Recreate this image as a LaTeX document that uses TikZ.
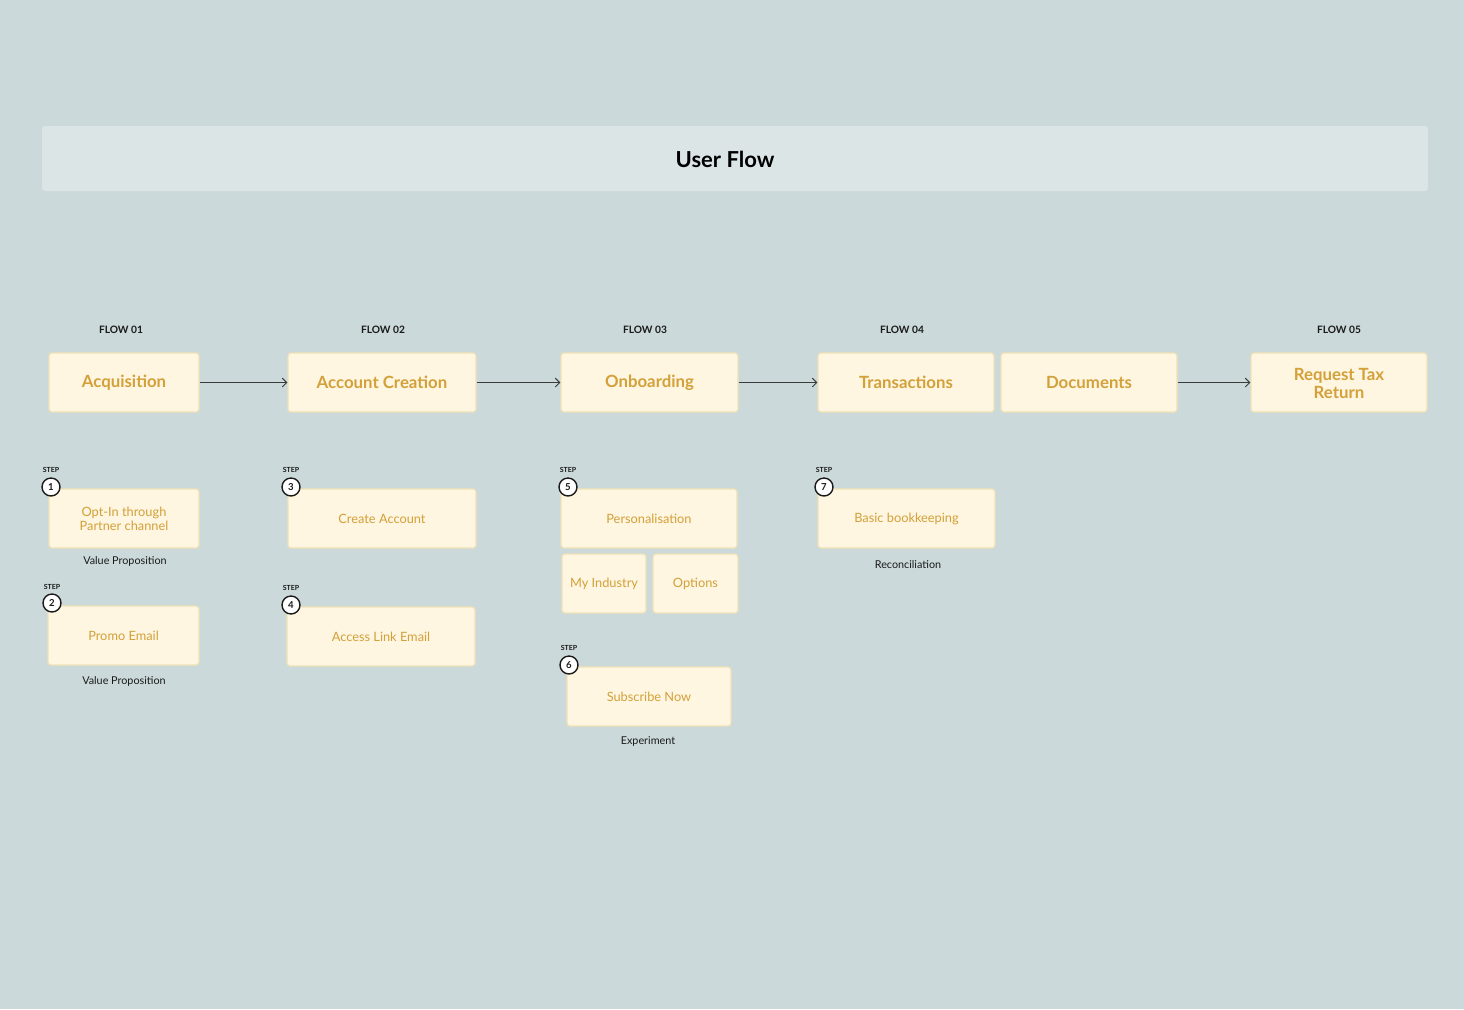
\documentclass[tikz,border=0pt]{standalone}
\usepackage{fontspec}
\setmainfont{Lato}
\usetikzlibrary{arrows.meta}
\definecolor{bgc}{HTML}{CBD9DA}
\definecolor{barc}{HTML}{DCE5E6}
\definecolor{boxfill}{HTML}{FEF6E0}
\definecolor{boxline}{HTML}{F1E2B6}
\definecolor{goldtext}{HTML}{D3A039}
\definecolor{inkc}{HTML}{1A1A1A}
\tikzset{
  card/.style={draw=boxline, line width=0.6pt, fill=boxfill, rounded corners=1.5pt,
    inner sep=0pt, align=center, text=goldtext},
  flowcard/.style={card, font=\bfseries\fontsize{8.4}{9.3}\selectfont},
  stepcard/.style={card, font=\fontsize{6.4}{7.2}\selectfont},
  flowlabel/.style={font=\bfseries\fontsize{5.1}{6}\selectfont, text=inkc},
  steplabel/.style={font=\bfseries\fontsize{3.5}{4}\selectfont, text=inkc},
  stepnum/.style={circle, draw=inkc, line width=0.7pt, fill=white, minimum size=9pt,
    inner sep=0pt, font=\bfseries\fontsize{4.8}{5}\selectfont, text=inkc},
  note/.style={font=\fontsize{5.4}{6}\selectfont, text=inkc},
  link/.style={draw=inkc!85, line width=0.5pt, -{Straight Barb[length=2.2pt, width=4.4pt]}}
}
\begin{document}
\begin{tikzpicture}[x=0.5pt, y=-0.5pt]
% canvas
\fill[bgc] (0,0) rectangle (1464,1009);
\useasboundingbox (0,0) rectangle (1464,1009);

% title bar
\node[fill=barc, rounded corners=1.5pt, minimum width=693pt, minimum height=32.5pt, inner sep=0pt] (title) at (735,158.5) {};
\node[font=\bfseries\fontsize{11}{12}\selectfont, text=black] (tt) at (725,159.5) {User Flow};

% flow headings
\node[flowlabel] (f1) at (121,330) {FLOW 01};
\node[flowlabel] (f2) at (383,330) {FLOW 02};
\node[flowlabel] (f3) at (645,330) {FLOW 03};
\node[flowlabel] (f4) at (902,330) {FLOW 04};
\node[flowlabel] (f5) at (1339,330) {FLOW 05};

% main flow cards
\node[flowcard, minimum width=75pt, minimum height=29.5pt] (acq) at (124,382.5) {Acquisition};
\node[flowcard, minimum width=94pt, minimum height=29.5pt] (acc) at (382,382.5) {Account Creation};
\node[flowcard, minimum width=88.5pt, minimum height=29.5pt] (onb) at (649.5,382.5) {Onboarding};
\node[flowcard, minimum width=88pt, minimum height=29.5pt] (trn) at (906,382.5) {Transactions};
\node[flowcard, minimum width=88pt, minimum height=29.5pt] (doc) at (1089,382.5) {Documents};
\node[flowcard, minimum width=88pt, minimum height=29.5pt] (rtr) at (1339,382.5) {};
\node[font=\bfseries\fontsize{8.4}{9}\selectfont, text=goldtext, align=center] (rtrt) at (1339,383.5) {Request Tax\\[0.2pt]Return};

\draw[link] (acq.east) -- (acc.west);
\draw[link] (acc.east) -- (onb.west);
\draw[link] (onb.east) -- (trn.west);
\draw[link] (doc.east) -- (rtr.west);

% step cards
\node[stepcard, minimum width=75pt, minimum height=29.5pt] (s1) at (124,518.5) {};
\node[font=\fontsize{6.4}{7}\selectfont, text=goldtext, align=center] (s1t) at (124,519) {Opt-In through\\[-0.2pt]Partner channel};
\node[stepcard, minimum width=75.5pt, minimum height=29.5pt] (s2) at (123.5,635.5) {\raisebox{-1pt}{Promo Email}};
\node[stepcard, minimum width=94pt, minimum height=29.5pt] (s3) at (382,518.5) {\raisebox{-1pt}{Create Account}};
\node[stepcard, minimum width=94pt, minimum height=29.5pt] (s4) at (381,636.5) {\raisebox{-1pt}{Access Link Email}};
\node[stepcard, minimum width=88pt, minimum height=29.5pt] (s5) at (649,518.5) {\raisebox{-1pt}{Personalisation}};
\node[stepcard, minimum width=42pt, minimum height=29.5pt] (ind) at (604,583.5) {\raisebox{-1pt}{My Industry}};
\node[stepcard, minimum width=42.5pt, minimum height=29.5pt] (opt) at (695.5,583.5) {\raisebox{-1pt}{Options}};
\node[stepcard, minimum width=82pt, minimum height=29.5pt] (s6) at (649,696.5) {\raisebox{-1pt}{Subscribe Now}};
\node[stepcard, minimum width=88.5pt, minimum height=29.5pt] (s7) at (906.5,518.5) {\raisebox{-1pt}{Basic bookkeeping}};

% step markers
\node[steplabel] (l1) at (51,470) {STEP};
\node[stepnum] (n1) at (51,487) {1};
\node[steplabel] (l2) at (52,587) {STEP};
\node[stepnum] (n2) at (52,603) {2};
\node[steplabel] (l3) at (291,470) {STEP};
\node[stepnum] (n3) at (291,487) {3};
\node[steplabel] (l4) at (291,588) {STEP};
\node[stepnum] (n4) at (291,605) {4};
\node[steplabel] (l5) at (568,470) {STEP};
\node[stepnum] (n5) at (568,487) {5};
\node[steplabel] (l6) at (569,648) {STEP};
\node[stepnum] (n6) at (569,665) {6};
\node[steplabel] (l7) at (824,470) {STEP};
\node[stepnum] (n7) at (824,487) {7};

% notes under cards
\node[note] (v1) at (125,561.5) {Value Proposition};
\node[note] (v2) at (124,681.5) {Value Proposition};
\node[note] (ex) at (648,741.5) {Experiment};
\node[note] (rc) at (908,564.5) {Reconciliation};
\end{tikzpicture}
\end{document}
